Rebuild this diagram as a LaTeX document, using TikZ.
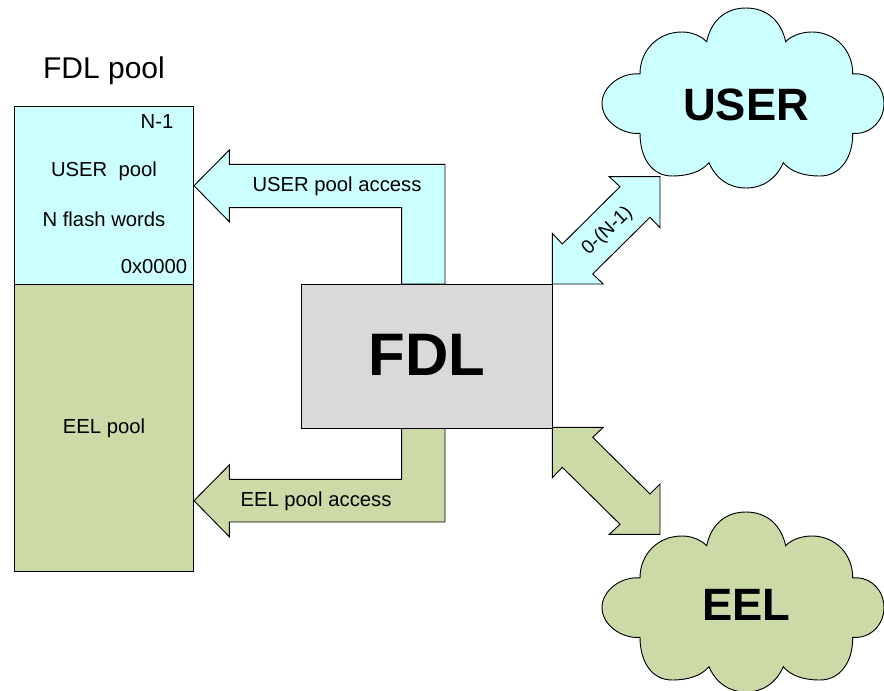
\documentclass[tikz,border=0pt]{standalone}
\usepackage{fontspec}
\setmainfont{Liberation Sans}
\definecolor{usercyan}{RGB}{204,255,255}
\definecolor{eelgreen}{RGB}{204,218,168}
\definecolor{fdlgray}{RGB}{217,217,217}
\newcommand{\cloudline}{(640,74) .. controls (640,50) and (658,32) .. (682,32)
    .. controls (692,32) and (701,36) .. (706.7,41.7)
    .. controls (711,21) and (725,8) .. (746,8)
    .. controls (767,8) and (781,21) .. (785.7,41.7)
    .. controls (791,36) and (801,32) .. (812,32)
    .. controls (835,32) and (853,50) .. (852.7,74)
    .. controls (870,72) and (884,86) .. (884,103.5)
    .. controls (884,121) and (870,135) .. (852.7,133.3)
    .. controls (853,158) and (840,176) .. (820,176)
    .. controls (804,176) and (791,172) .. (783.3,162.7)
    .. controls (776,179) and (763,188) .. (746,188)
    .. controls (729,188) and (716,179) .. (709,162.7)
    .. controls (701,172) and (688,176) .. (672,176)
    .. controls (652,176) and (640,158) .. (640,133.3)
    .. controls (622,135) and (602,121) .. (602,103.5)
    .. controls (602,86) and (622,72) .. (640,74) -- cycle}
\tikzset{
    poolbox/.style = {rectangle, draw, inner sep = 0pt, minimum width = 134.7pt},
    small/.style = {font = \fontsize{15.2}{18}\selectfont, inner sep = 0pt},
    big/.style = {font = \fontsize{34}{40}\selectfont\bfseries, inner sep = 0pt}
}
\begin{document}
\begin{tikzpicture}[x = 0.75pt, y = -0.75pt, line width = 0.7pt, line join = miter]
\useasboundingbox (0,0) rectangle (884,691);
% block arrows
\draw [fill = usercyan] (194,185.7) -- (229.3,150) -- (229.3,164.3) -- (445,164.3) -- (445,284)
    -- (401.7,284) -- (401.7,207.7) -- (229.3,207.7) -- (229.3,221.7) -- cycle;
\draw [fill = eelgreen] (194,500.7) -- (229.3,465) -- (229.3,479.3) -- (401.7,479.3) -- (401.7,428)
    -- (445,428) -- (445,522) -- (229.3,522) -- (229.3,536.7) -- cycle;
\draw [fill = usercyan] (552.3,284) -- (552.3,233.3) -- (562.3,244) -- (620,186.7) -- (609.3,176.7)
    -- (660,176.7) -- (660,227.7) -- (650,217.3) -- (592.7,274) -- (603.3,284) -- cycle;
\draw [fill = eelgreen] (552.3,427.3) -- (603.3,427.3) -- (592.7,437.3) -- (650,494) -- (660,484)
    -- (660,534.3) -- (609.3,534.3) -- (620,524.3) -- (562.3,467.3) -- (552.3,477.7) -- cycle;
% boxes
\draw (103.8,195.2) node[poolbox, fill = usercyan, minimum height = 133.5pt](userpool){}
    (103.8,427.6) node[poolbox, fill = eelgreen, minimum height = 215.1pt](eelpool){}
    (426.7,356.2) node[rectangle, draw, fill = fdlgray, inner sep = 0pt, minimum width = 188.3pt, minimum height = 108pt](fdl){};
% clouds
\draw [fill = usercyan] \cloudline;
\draw [fill = eelgreen, yshift = -378pt] \cloudline;
% labels
\draw (427,355) node[font = \fontsize{45}{52}\selectfont\bfseries, inner sep = 0pt](fdltext){FDL}
    (746,104.5) node[big](usertext){USER}
    (746.5,604.5) node[big](eeltext){EEL}
    (104,71) node[font = \fontsize{22.5}{27}\selectfont, inner sep = 0pt](pooltitle){FDL pool}
    (157,122) node[small](topaddr){N-1}
    (104,171.5) node[small](userlabel){USER\ \ pool}
    (104,219) node[small](wordslabel){N flash words}
    (154,267) node[small](lowaddr){0x0000}
    (104,428) node[small](eellabel){EEL pool}
    (337,186.5) node[small](useraccess){USER pool access}
    (316,501.5) node[small](eelaccess){EEL pool access}
    (607.5,231) node[font = \fontsize{14.5}{17}\selectfont, inner sep = 0pt, rotate = 43](range){0-(N-1)};
\end{tikzpicture}
\end{document}
